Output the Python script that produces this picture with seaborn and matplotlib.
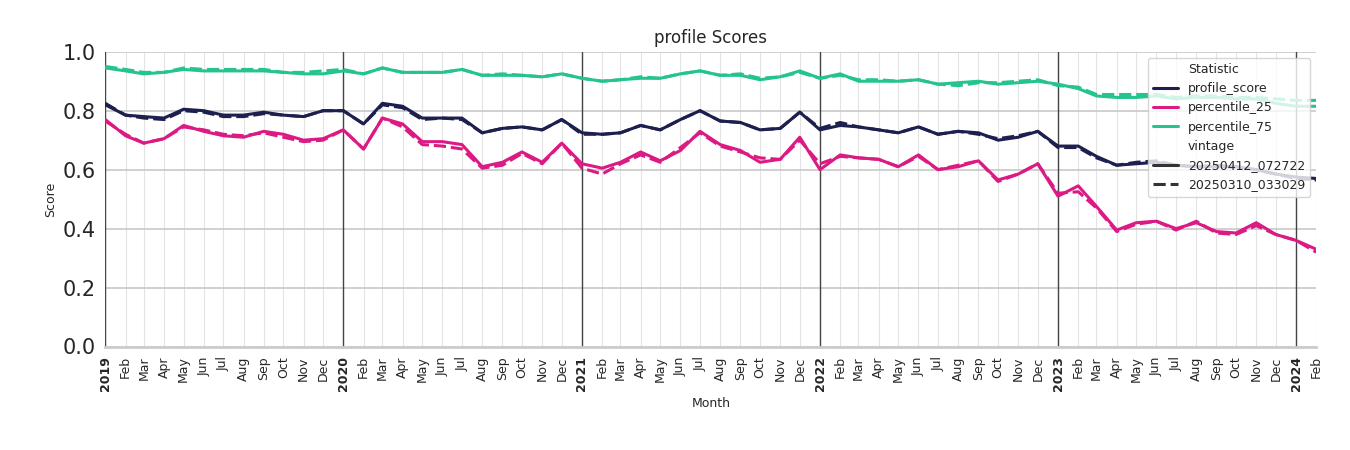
"""Monthly profile score statistics for two data vintages."""

import matplotlib
matplotlib.use("Agg")
import matplotlib.pyplot as plt
import numpy as np
import pandas as pd
import seaborn as sns

MONTHS = pd.date_range("2019-01-01", "2024-02-01", freq="MS")

# vintage 20250412_072722
PROFILE_NEW = [0.82, 0.785, 0.78, 0.775, 0.805, 0.80, 0.785, 0.785, 0.795, 0.785, 0.78, 0.80,
               0.80, 0.755, 0.825, 0.815, 0.775, 0.775, 0.775, 0.725, 0.74, 0.745, 0.735, 0.77,
               0.725, 0.72, 0.725, 0.75, 0.735, 0.77, 0.80, 0.765, 0.76, 0.735, 0.74, 0.795,
               0.735, 0.75, 0.745, 0.735, 0.725, 0.745, 0.72, 0.73, 0.725, 0.70, 0.71, 0.73,
               0.68, 0.68, 0.645, 0.615, 0.62, 0.625, 0.615, 0.61, 0.61, 0.61, 0.60, 0.585,
               0.575, 0.57]
P25_NEW = [0.77, 0.715, 0.69, 0.705, 0.75, 0.73, 0.715, 0.71, 0.73, 0.72, 0.70, 0.705,
           0.735, 0.67, 0.775, 0.755, 0.695, 0.695, 0.685, 0.61, 0.625, 0.66, 0.625, 0.69,
           0.62, 0.605, 0.625, 0.66, 0.63, 0.665, 0.73, 0.685, 0.665, 0.625, 0.635, 0.71,
           0.60, 0.65, 0.64, 0.635, 0.61, 0.65, 0.60, 0.61, 0.63, 0.565, 0.585, 0.62,
           0.51, 0.545, 0.475, 0.395, 0.42, 0.425, 0.40, 0.42, 0.39, 0.385, 0.42, 0.38,
           0.36, 0.33]
P75_NEW = [0.945, 0.935, 0.925, 0.93, 0.94, 0.935, 0.935, 0.935, 0.935, 0.93, 0.925, 0.925,
           0.935, 0.925, 0.945, 0.93, 0.93, 0.93, 0.94, 0.92, 0.92, 0.92, 0.915, 0.925,
           0.91, 0.90, 0.905, 0.91, 0.91, 0.925, 0.935, 0.92, 0.92, 0.905, 0.915, 0.935,
           0.91, 0.925, 0.90, 0.90, 0.90, 0.905, 0.89, 0.895, 0.90, 0.89, 0.895, 0.90,
           0.89, 0.875, 0.85, 0.845, 0.845, 0.85, 0.84, 0.845, 0.845, 0.84, 0.84, 0.825,
           0.815, 0.815]

# vintage 20250310_033029
PROFILE_OLD = [0.825, 0.785, 0.775, 0.77, 0.80, 0.795, 0.78, 0.78, 0.79, 0.785, 0.78, 0.80,
               0.80, 0.755, 0.82, 0.81, 0.77, 0.775, 0.77, 0.725, 0.74, 0.745, 0.735, 0.77,
               0.72, 0.72, 0.725, 0.75, 0.735, 0.77, 0.80, 0.765, 0.76, 0.735, 0.74, 0.795,
               0.74, 0.76, 0.745, 0.735, 0.725, 0.745, 0.72, 0.73, 0.72, 0.705, 0.715, 0.73,
               0.675, 0.675, 0.64, 0.615, 0.625, 0.63, 0.615, 0.61, 0.615, 0.61, 0.60, 0.585,
               0.57, 0.565]
P25_OLD = [0.765, 0.72, 0.69, 0.705, 0.745, 0.735, 0.72, 0.715, 0.725, 0.71, 0.695, 0.70,
           0.735, 0.67, 0.775, 0.745, 0.685, 0.68, 0.67, 0.605, 0.615, 0.655, 0.62, 0.69,
           0.605, 0.585, 0.62, 0.65, 0.625, 0.675, 0.725, 0.68, 0.66, 0.64, 0.635, 0.70,
           0.62, 0.645, 0.64, 0.635, 0.61, 0.645, 0.60, 0.615, 0.63, 0.56, 0.585, 0.62,
           0.52, 0.525, 0.47, 0.39, 0.415, 0.425, 0.395, 0.425, 0.385, 0.38, 0.41, 0.38,
           0.36, 0.32]
P75_OLD = [0.95, 0.94, 0.93, 0.93, 0.945, 0.94, 0.94, 0.94, 0.94, 0.93, 0.93, 0.935,
           0.94, 0.925, 0.945, 0.93, 0.93, 0.93, 0.94, 0.92, 0.925, 0.92, 0.915, 0.925,
           0.91, 0.90, 0.905, 0.915, 0.91, 0.925, 0.935, 0.92, 0.925, 0.91, 0.915, 0.93,
           0.91, 0.92, 0.905, 0.905, 0.90, 0.905, 0.89, 0.885, 0.895, 0.895, 0.90, 0.905,
           0.885, 0.88, 0.855, 0.855, 0.855, 0.855, 0.845, 0.85, 0.85, 0.845, 0.845, 0.84,
           0.835, 0.835]

VINTAGES = ["20250412_072722", "20250310_033029"]
STATISTICS = ["profile_score", "percentile_25", "percentile_75"]
COLORS = {"profile_score": "#1d1f4f", "percentile_25": "#dc1a84", "percentile_75": "#25c48f"}

series = {
    ("profile_score", VINTAGES[0]): PROFILE_NEW,
    ("percentile_25", VINTAGES[0]): P25_NEW,
    ("percentile_75", VINTAGES[0]): P75_NEW,
    ("profile_score", VINTAGES[1]): PROFILE_OLD,
    ("percentile_25", VINTAGES[1]): P25_OLD,
    ("percentile_75", VINTAGES[1]): P75_OLD,
}
rows = []
for (stat, vintage), values in series.items():
    for month, value in zip(MONTHS, values):
        rows.append({"Month": month, "Score": value, "Statistic": stat, "vintage": vintage})
df = pd.DataFrame(rows)

sns.set_style("whitegrid")
fig, ax = plt.subplots(figsize=(13.5, 4.5), dpi=100)
sns.lineplot(data=df, x="Month", y="Score", hue="Statistic", style="vintage",
             hue_order=STATISTICS, style_order=VINTAGES, palette=COLORS,
             dashes={VINTAGES[0]: "", VINTAGES[1]: (4, 1.6)}, linewidth=2.2, ax=ax)

ax.set_xlim(MONTHS[0], MONTHS[-1])
ax.set_ylim(0, 1)
ax.set_yticks(np.arange(0, 1.01, 0.2))
ax.tick_params(axis="y", labelsize=15)
ax.set_xticks(MONTHS)
labels = [m.strftime("%Y") if m.month == 1 else m.strftime("%b") for m in MONTHS]
ax.set_xticklabels(labels, rotation=90, fontsize=9)
for lbl, m in zip(ax.get_xticklabels(), MONTHS):
    if m.month == 1:
        lbl.set_fontweight("bold")
ax.grid(axis="x", color="#e3e3e3", linewidth=0.8)
ax.grid(axis="y", color="#c8c8c8", linewidth=1.2)
for m in MONTHS:
    if m.month == 1:
        ax.axvline(m, color="#444444", linewidth=1.0, zorder=1)
for side in ["top", "right"]:
    ax.spines[side].set_visible(False)
ax.spines["bottom"].set_color("#cccccc")
ax.spines["bottom"].set_linewidth(2)
ax.spines["left"].set_visible(False)

ax.set_title("profile Scores", fontsize=12)
ax.set_xlabel("Month", fontsize=9)
ax.set_ylabel("Score", fontsize=9)
leg = ax.legend(loc="upper right", fontsize=9, framealpha=0.8)

fig.subplots_adjust(left=0.078, right=0.975, top=0.885, bottom=0.23)
fig.savefig("out.png", dpi=100)
